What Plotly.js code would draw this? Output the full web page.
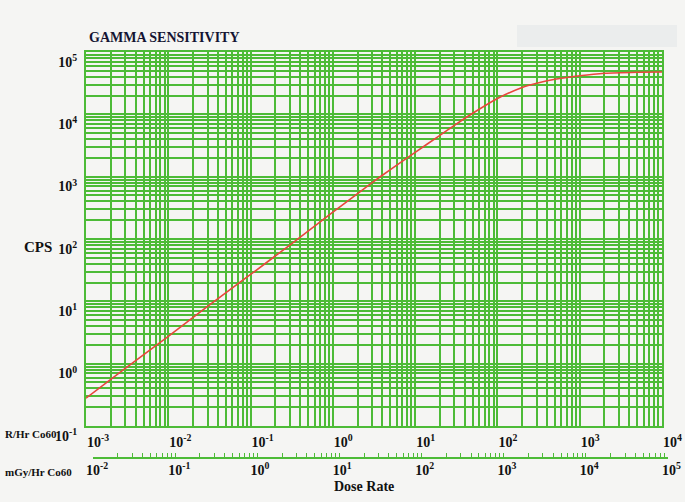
<!DOCTYPE html>
<html>
<head>
<meta charset="utf-8">
<script src="https://cdn.plot.ly/plotly-3.0.1.min.js"></script>
<style>html,body{margin:0;padding:0;background:#f5f5f3;}#chart{width:685px;height:502px;}</style>
</head>
<body>
<div id="chart"></div>
<script>
// Dose rate in R/Hr (Co60) and measured counts per second
const doseR = [0.001, 0.003, 0.01, 0.03, 0.1, 0.3, 1, 3, 5, 10, 20, 30, 50, 100, 200, 300, 500, 1000, 2000, 5000, 10000];
const cps   = [0.28, 0.84, 2.75, 8.3, 27, 80, 270, 800, 1300, 2450, 4600, 6650, 10400, 18000, 27000, 31500, 36500, 41500, 45500, 47300, 47700];
const MGY_PER_R = 10;

// Tick decades and labels
const xDecadesR = [-3, -2, -1, 0, 1, 2, 3, 4];
const xLabelsR = ['10<sup>-3</sup>','10<sup>-2</sup>','10<sup>-1</sup>','10<sup>0</sup>','10<sup>1</sup>','10<sup>2</sup>','10<sup>3</sup>','10<sup>4</sup>'];
const xDecadesG = [-2, -1, 0, 1, 2, 3, 4, 5];
const xLabelsG = ['10<sup>-2</sup>','10<sup>-1</sup>','10<sup>0</sup>','10<sup>1</sup>','10<sup>2</sup>','10<sup>3</sup>','10<sup>4</sup>','10<sup>5</sup>'];
const yDecades = [-1, 0, 1, 2, 3, 4, 5];
const yLabels = ['10<sup>-1</sup>','10<sup>0</sup>','10<sup>1</sup>','10<sup>2</sup>','10<sup>3</sup>','10<sup>4</sup>','10<sup>5</sup>'];

function logTicks(decades, labels) {
  const vals = [], text = [];
  decades.forEach((d, i) => {
    const base = Math.pow(10, d);
    vals.push(base); text.push(labels[i]);
    if (i < decades.length - 1) {
      for (let m = 2; m <= 9; m++) { vals.push(m * base); text.push(''); }
    }
  });
  return {vals, text};
}
const tR = logTicks(xDecadesR, xLabelsR);
const tG = logTicks(xDecadesG, xLabelsG);
const tY = logTicks(yDecades, yLabels);

const GREEN = '#4dbb37';
const SERIF = 'Liberation Serif, Times New Roman, serif';
const tickFont = {family: SERIF, size: 14, color: '#111', weight: 'bold'};

const W = 685, H = 502, L = 86, R = 17, T = 52, B = 32;
const plotW = W - L - R, plotH = H - T - B;
const mainW = 576;
const yBottomFrac = (470 - 426) / plotH;
const axis2Pos = 12 / plotH;

const traces = [
  {x: doseR, y: cps, xaxis: 'x', yaxis: 'y', mode: 'lines', type: 'scatter',
   line: {color: '#e8463c', width: 1.6, shape: 'spline', smoothing: 0.6}, hoverinfo: 'x+y', showlegend: false},
  {x: doseR.map(d => d * MGY_PER_R), y: cps, xaxis: 'x2', yaxis: 'y2', mode: 'lines', type: 'scatter',
   opacity: 0, hoverinfo: 'skip', showlegend: false},
  {x: doseR.map(d => d * MGY_PER_R), y: cps, xaxis: 'x3', yaxis: 'y3', mode: 'lines', type: 'scatter',
   opacity: 0, hoverinfo: 'skip', showlegend: false}
];

const layout = {
  width: W, height: H,
  margin: {l: L, r: R, t: T, b: B, pad: 0},
  paper_bgcolor: '#f5f5f3',
  plot_bgcolor: 'rgba(0,0,0,0)',
  showlegend: false,
  xaxis: {
    type: 'log', range: [-3, 4], domain: [0, mainW / plotW], anchor: 'y',
    tickmode: 'array', tickvals: tR.vals, ticktext: tR.text,
    showgrid: true, gridcolor: GREEN, gridwidth: 2,
    ticks: '', showline: true, mirror: true, linecolor: GREEN, linewidth: 2,
    zeroline: false, ticklabelposition: 'outside right', tickfont: tickFont,
    ticklabelstandoff: 2
  },
  yaxis: {
    type: 'log', range: [-1, 5], domain: [yBottomFrac, 1], anchor: 'x',
    tickmode: 'array', tickvals: tY.vals, ticktext: tY.text,
    showgrid: true, gridcolor: GREEN, gridwidth: 2,
    ticks: '', showline: true, mirror: true, linecolor: GREEN, linewidth: 2,
    zeroline: false, ticklabelposition: 'outside bottom', tickfont: tickFont,
    ticklabelstandoff: 4
  },
  xaxis2: {
    type: 'log', range: [-2, 5], domain: [7 / plotW, 1], anchor: 'free', position: axis2Pos,
    tickmode: 'array', tickvals: tG.vals, ticktext: tG.vals.map(() => ''),
    showticklabels: false, showgrid: false, zeroline: false,
    ticks: 'inside', ticklen: 4, tickwidth: 1, tickcolor: GREEN,
    showline: true, linecolor: GREEN, linewidth: 2
  },
  yaxis2: {type: 'log', visible: false, domain: [0, 0.05], anchor: 'x2'},
  xaxis3: {
    type: 'log', range: [-2, 5], domain: [0, mainW / plotW], anchor: 'free', position: axis2Pos,
    tickmode: 'array', tickvals: xDecadesG.map(d => Math.pow(10, d)), ticktext: xLabelsG,
    showgrid: false, zeroline: false, showline: false, ticks: '',
    ticklabelposition: 'outside right', tickfont: tickFont, ticklabelstandoff: 2
  },
  yaxis3: {type: 'log', visible: false, domain: [0, 0.05], anchor: 'x3'},
  shapes: [
    {type: 'rect', xref: 'paper', yref: 'paper',
     x0: (517 - L) / plotW, x1: (677 - L) / plotW,
     y0: 1 + (T - 47) / plotH, y1: 1 + (T - 25) / plotH,
     fillcolor: '#ebeded', line: {width: 0}, layer: 'below'}
  ],
  annotations: [
    {text: 'GAMMA SENSITIVITY', xref: 'paper', yref: 'paper', x: (87 - L) / plotW, y: 1 + (T - 37) / plotH,
     xanchor: 'left', yanchor: 'middle', showarrow: false,
     font: {family: SERIF, size: 14, color: '#141432', weight: 'bold'}},
    {text: 'CPS', xref: 'paper', yref: 'paper', x: (38 - L) / plotW, y: (470 - 247) / plotH,
     xanchor: 'center', yanchor: 'middle', showarrow: false,
     font: {family: SERIF, size: 15, color: '#111', weight: 'bold'}},
    {text: 'R/Hr Co60', xref: 'paper', yref: 'paper', x: (3 - L) / plotW, y: (470 - 434) / plotH,
     xanchor: 'left', yanchor: 'middle', showarrow: false,
     font: {family: SERIF, size: 11, color: '#111', weight: 'bold'}},
    {text: 'mGy/Hr Co60', xref: 'paper', yref: 'paper', x: (3 - L) / plotW, y: (470 - 472) / plotH,
     xanchor: 'left', yanchor: 'middle', showarrow: false,
     font: {family: SERIF, size: 11, color: '#111', weight: 'bold'}},
    {text: 'Dose Rate', xref: 'paper', yref: 'paper', x: (332 - L) / plotW, y: (470 - 486) / plotH,
     xanchor: 'left', yanchor: 'middle', showarrow: false,
     font: {family: SERIF, size: 14, color: '#111', weight: 'bold'}}
  ]
};

Plotly.newPlot('chart', traces, layout, {displayModeBar: false});
</script>
</body>
</html>
